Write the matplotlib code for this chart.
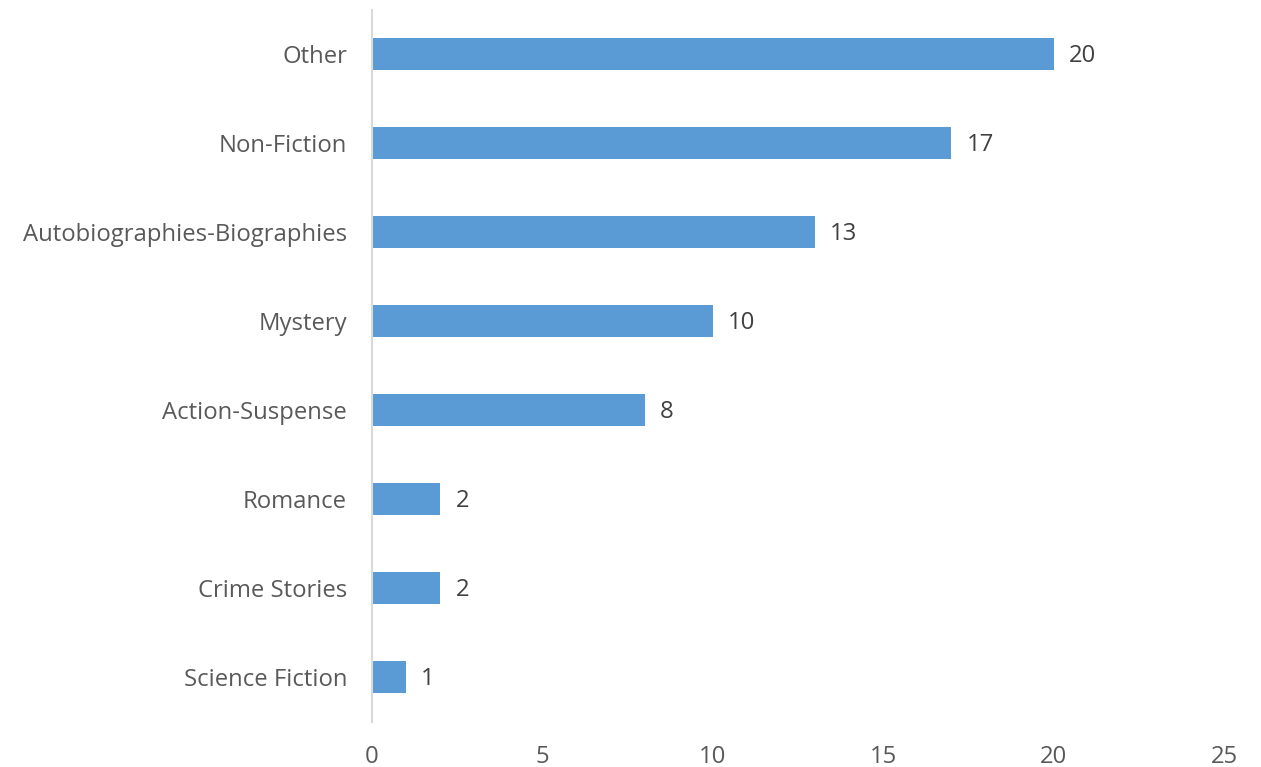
import matplotlib
matplotlib.use("Agg")
import matplotlib.pyplot as plt

categories = ["Science Fiction", "Crime Stories", "Romance", "Action-Suspense",
              "Mystery", "Autobiographies-Biographies", "Non-Fiction", "Other"]
values = [1, 2, 2, 8, 10, 13, 17, 20]
xticks = [0, 5, 10, 15, 20, 25]

plt.rcParams['font.family'] = ['Open Sans', 'DejaVu Sans']
FS = 17.2

fig = plt.figure(figsize=(12.61, 7.67), dpi=100)
ax = fig.add_axes([372/1261, 1-721.5/767, (1224-372)/1261, (721.5-9.5)/767])

y = list(range(len(categories)))
bars = ax.barh(y, values, height=0.36, color="#5B9BD5")
for yi, v in zip(y, values):
    ax.annotate(str(v), (v, yi), xytext=(11, -1.5), textcoords="offset points",
                ha="left", va="center", fontsize=FS, color="#404040")

ax.set_xlim(0, 25)
ax.set_ylim(-0.5, 7.5)
ax.set_yticks(y)
ax.set_yticklabels(categories, fontsize=FS, color="#595959")
ax.set_xticks(xticks)
ax.set_xticklabels([str(t) for t in xticks], fontsize=FS, color="#595959")
ax.tick_params(axis="both", length=0)
ax.tick_params(axis="y", pad=18)
ax.tick_params(axis="x", pad=17)
for s in ["top", "right", "bottom"]:
    ax.spines[s].set_visible(False)
ax.spines["left"].set_color("#D9D9D9")
ax.spines["left"].set_linewidth(1.5)

fig.savefig("out.png", dpi=100)
